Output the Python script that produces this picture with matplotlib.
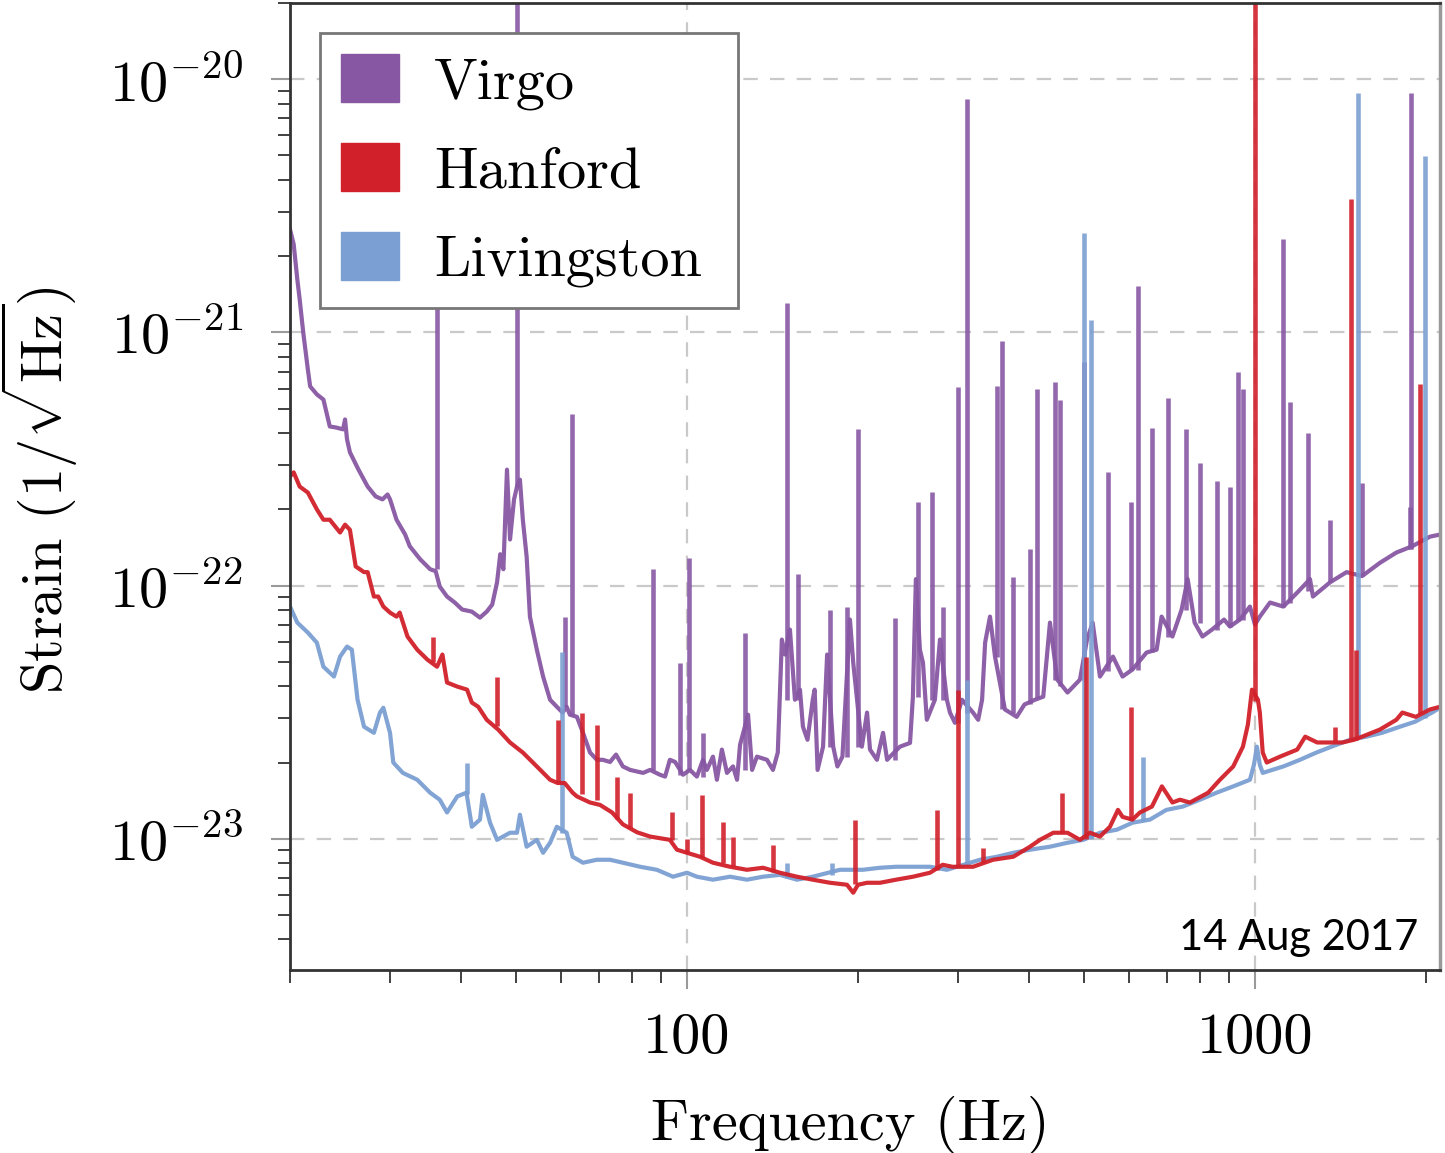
# -*- coding: utf-8 -*-

import numpy as np
import matplotlib
matplotlib.use('Agg')
from matplotlib import pyplot as plt
from matplotlib.patches import Patch
from matplotlib.ticker import FixedLocator, LogLocator, FuncFormatter, NullFormatter

# Amplitude spectral densities, strain in units of 1e-23 / sqrt(Hz)
virgo_freq = [20.0, 20.3, 20.6, 20.8, 21.1, 21.5, 21.7, 22.3, 22.9, 23.5,
              24.1, 24.8, 25.0, 25.2, 25.5, 26.4, 27.4, 28.3, 29.1, 29.7,
              30.0, 30.8, 31.9, 32.5, 33.9, 35.3, 36.1, 36.7, 37.8, 39.0,
              40.2, 41.8, 43.2, 44.4, 45.4, 46.3, 46.9, 47.5, 48.2, 48.8,
              49.6, 50.2, 50.8, 51.4, 52.2, 52.9, 54.4, 55.8, 57.4, 59.0,
              60.4, 61.4, 62.2, 64.0, 65.6, 67.5, 69.4, 71.1, 73.2, 75.0,
              77.1, 79.4, 83.7, 86.1, 89.6, 91.5, 93.3, 95.3, 98.4, 101.2,
              104.1, 106.7, 108.4, 111.1, 112.9, 115.2, 117.6, 120.5, 122.5, 124.0,
              128.1, 130.2, 132.8, 138.3, 141.7, 144.5, 146.9, 148.8, 151.8, 154.9,
              158.1, 160.0, 163.0, 166.5, 167.8, 169.8, 173.6, 176.5, 180.9, 184.0,
              187.8, 193.6, 196.2, 203.2, 207.5, 210.0, 216.0, 221.4, 225.1, 229.7,
              237.1, 247.0, 249.9, 252.9, 257.1, 260.3, 264.4, 273.2, 278.9, 286.8,
              290.4, 296.3, 304.9, 318.9, 325.6, 330.8, 334.9, 341.6, 348.6, 362.9,
              370.4, 380.6, 392.8, 410.0, 423.9, 435.6, 448.7, 467.7, 491.9, 506.2,
              517.9, 533.5, 562.3, 584.6, 608.6, 644.5, 671.3, 684.9, 715.7, 742.9,
              761.2, 783.1, 808.3, 840.2, 882.3, 903.6, 941.0, 979.9, 1000, 1020,
              1063, 1122, 1187, 1250, 1265, 1356, 1450, 1544, 1660, 1774,
              1892, 2033, 2117]
virgo_asd = [255, 223, 162, 135, 100, 71.4, 61.2, 56.9, 54.3, 42.5,
             42.1, 41.4, 45.3, 37.8, 33.6, 28.7, 24.6, 22.5, 21.9, 22.9,
             21.9, 18.2, 15.9, 14.3, 12.7, 11.6, 11.4, 9.91, 9.05, 8.57,
             8.04, 7.89, 7.47, 7.89, 8.41, 10.3, 13.3, 11.6, 28.7, 15.2,
             21.9, 24.6, 26.2, 18.2, 13.0, 7.54, 5.58, 4.37, 3.54, 3.32,
             3.15, 3.32, 3.09, 3.03, 2.62, 2.19, 2.05, 2.05, 2.01, 2.15,
             1.93, 1.87, 1.82, 1.87, 1.79, 1.76, 2.05, 2.01, 1.79, 1.87,
             1.76, 2.05, 1.87, 2.11, 1.71, 2.25, 1.82, 1.93, 1.71, 2.35,
             3.09, 1.87, 2.11, 2.05, 1.87, 2.19, 6.12, 5.34, 6.70, 3.54,
             3.88, 2.77, 2.46, 3.54, 3.88, 1.87, 2.31, 5.34, 2.31, 1.93,
             2.11, 7.34, 4.96, 2.31, 3.15, 2.25, 2.05, 2.62, 2.05, 2.15,
             2.31, 2.39, 3.64, 10.6, 5.58, 4.96, 2.95, 3.54, 6.12, 3.54,
             3.15, 2.87, 3.54, 3.15, 2.95, 3.54, 5.95, 7.54, 5.24, 3.24,
             3.15, 3.03, 3.39, 3.54, 3.64, 7.14, 4.25, 3.78, 4.25, 6.12,
             7.14, 4.37, 5.24, 4.37, 4.66, 5.44, 5.58, 7.54, 6.29, 8.04,
             10.6, 7.14, 6.29, 6.70, 7.34, 6.89, 7.34, 8.26, 7.01, 7.54,
             8.57, 8.26, 9.38, 10.6, 9.05, 10.3, 11.3, 10.9, 12.3, 13.5,
             14.3, 15.6, 15.9]

# narrow lines: frequency, level at the foot, level at the top
virgo_line_freq = [36.3, 50.2, 60.9, 62.8, 87.1, 97.2, 100.8, 106.7, 126.5, 150.0,
                   156.8, 178.6, 191.3, 200.0, 232.4, 254.9, 269.9, 281.9, 299.9, 310.9,
                   351.5, 358.9, 375.4, 401.7, 413.3, 444.9, 453.6, 499.9, 550.9, 604.9,
                   622.3, 658.6, 702.8, 756.0, 800.1, 856.1, 903.6, 933.4, 952.4, 1122,
                   1153, 1240, 1356, 1544, 1875, 1883]
virgo_line_base = [11.6, 24.6, 3.32, 3.09, 1.87, 1.79, 1.87, 1.76, 1.87, 3.54,
                   3.54, 2.31, 2.11, 2.31, 2.05, 3.64, 3.54, 3.54, 2.87, 3.15,
                   5.24, 3.24, 3.15, 3.4, 3.6, 4.25, 4.0, 4.25, 4.6, 4.66,
                   4.66, 5.44, 6.29, 8.04, 7.14, 6.70, 6.89, 7.34, 7.34, 8.26,
                   8.5, 9.5, 10.3, 10.9, 14.0, 14.0]
virgo_line_peak = [141, 4000, 7.54, 47.4, 11.6, 4.96, 12.9, 2.62, 6.52, 131,
                   11.1, 8.04, 8.26, 41.4, 7.47, 21.3, 23.5, 8.26, 60.6, 834,
                   61.2, 92.1, 10.8, 13.9, 59.5, 63.4, 54.3, 76.1, 28.0, 21.3,
                   152, 42.1, 55.3, 41.4, 30.6, 25.8, 24.6, 69.5, 59.5, 233,
                   52.9, 40.2, 18.2, 25.5, 20.5, 884]

hanford_freq = [20.0, 20.3, 20.8, 21.5, 22.3, 22.9, 23.5, 24.5, 25.0, 25.5,
                26.1, 27.0, 27.4, 28.1, 28.6, 29.2, 30.0, 30.8, 31.2, 32.2,
                33.5, 34.9, 36.3, 37.1, 37.8, 39.4, 41.0, 41.8, 42.9, 44.4,
                46.5, 48.8, 51.4, 54.4, 57.4, 59.2, 60.9, 62.9, 64.0, 67.5,
                70.3, 73.8, 77.1, 81.7, 86.1, 93.3, 96.0, 100, 105.4, 111.1,
                119.1, 127.5, 136.1, 145.8, 156.2, 166.5, 178.6, 191.3, 196.2, 200.0,
                207.5, 218.7, 233.4, 250.0, 267.8, 281.9, 293.4, 306.7, 318.9, 345.9,
                375.4, 401.7, 418.3, 441.6, 467.7, 491.9, 512.3, 533.5, 555.5, 573.9,
                584.6, 608.6, 627.4, 658.6, 685.8, 715.7, 737.8, 768.3, 827.2, 867.7,
                915.7, 952.4, 971.7, 988.0, 1012, 1020, 1032, 1049, 1107, 1187,
                1226, 1287, 1356, 1425, 1495, 1544, 1660, 1774, 1818, 1920,
                2033, 2117]
hanford_asd = [27.0, 28.0, 24.6, 23.3, 20.0, 18.2, 18.2, 16.2, 17.4, 16.6,
               11.9, 11.3, 11.3, 9.05, 9.05, 8.26, 7.82, 7.54, 7.82, 6.29,
               5.58, 5.10, 4.78, 5.34, 4.14, 3.99, 3.88, 3.45, 3.32, 2.95,
               2.70, 2.40, 2.19, 1.93, 1.71, 1.66, 1.66, 1.52, 1.47, 1.39,
               1.36, 1.27, 1.14, 1.06, 1.02, 0.99, 0.905, 0.88, 0.849, 0.804,
               0.775, 0.754, 0.768, 0.734, 0.708, 0.689, 0.670, 0.658, 0.612, 0.658,
               0.670, 0.670, 0.689, 0.708, 0.734, 0.789, 0.775, 0.775, 0.775, 0.826,
               0.849, 0.93, 0.99, 1.056, 1.056, 0.99, 1.056, 1.02, 1.115, 1.30,
               1.22, 1.19, 1.27, 1.34, 1.61, 1.39, 1.426, 1.39, 1.52, 1.71,
               1.93, 2.31, 2.82, 3.88, 3.54, 3.15, 2.19, 2.0, 2.11, 2.25,
               2.53, 2.40, 2.40, 2.40, 2.46, 2.53, 2.70, 2.95, 3.15, 3.03,
               3.24, 3.32]

hanford_line_freq = [35.7, 46.3, 59.2, 65.3, 69.4, 75.4, 79.4, 94.1, 100.0, 106.3,
                     115.7, 120.5, 141.7, 197.9, 275.4, 299.9, 332.1, 457.4, 504.3, 604.9,
                     1000, 1384, 1479, 1509, 1952]
hanford_line_base = [5.0, 2.8, 1.66, 1.5, 1.42, 1.2, 1.1, 0.99, 0.88, 0.85,
                     0.8, 0.78, 0.74, 0.66, 0.75, 0.775, 0.8, 1.05, 1.0, 1.19,
                     3.5, 2.4, 2.45, 2.45, 3.1]
hanford_line_peak = [6.29, 4.37, 2.95, 3.15, 2.82, 1.76, 1.52, 1.27, 1.0, 1.49,
                     1.16, 1.02, 0.947, 1.19, 1.30, 3.88, 0.921, 1.52, 5.24, 3.30,
                     4000, 2.77, 336, 5.58, 62.3]

livingston_freq = [20.0, 20.6, 21.5, 22.3, 22.9, 23.9, 24.5, 25.2, 25.7, 26.3,
                   27.0, 28.1, 28.8, 29.2, 30.0, 30.4, 31.6, 33.5, 35.3, 36.7,
                   37.8, 39.4, 40.9, 41.8, 43.2, 43.7, 45.0, 46.3, 48.8, 50.2,
                   50.8, 52.2, 54.4, 55.8, 57.4, 59.0, 61.4, 62.9, 65.6, 69.4,
                   73.2, 77.1, 82.7, 88.5, 94.5, 100, 104.1, 111.1, 119.1, 127.5,
                   136.1, 145.8, 156.2, 166.5, 185.9, 204.0, 218.7, 233.4, 250.0, 267.8,
                   286.8, 306.7, 328.0, 351.5, 375.4, 401.7, 435.6, 467.7, 498.7, 533.5,
                   571.0, 608.6, 653.3, 698.2, 746.5, 800.1, 856.1, 915.7, 979.9, 996,
                   1008, 1020, 1032, 1122, 1200, 1283, 1364, 1470, 1571, 1674,
                   1800, 1915, 2050, 2117]
livingston_asd = [8.26, 7.14, 6.52, 5.95, 4.78, 4.37, 5.24, 5.74, 5.58, 3.54,
                  2.77, 2.62, 3.15, 3.29, 2.62, 2.0, 1.82, 1.71, 1.52, 1.426,
                  1.27, 1.47, 1.52, 1.115, 1.19, 1.49, 1.157, 0.99, 1.056, 1.056,
                  1.244, 0.93, 0.99, 0.88, 0.964, 1.115, 1.056, 0.849, 0.804, 0.826,
                  0.826, 0.804, 0.775, 0.754, 0.708, 0.734, 0.708, 0.689, 0.708, 0.689,
                  0.708, 0.72, 0.689, 0.708, 0.754, 0.754, 0.768, 0.775, 0.775, 0.775,
                  0.754, 0.789, 0.826, 0.849, 0.88, 0.905, 0.93, 0.964, 0.99, 1.056,
                  1.085, 1.157, 1.19, 1.30, 1.34, 1.426, 1.52, 1.61, 1.71, 1.96,
                  2.31, 1.96, 1.82, 1.93, 2.05, 2.19, 2.31, 2.46, 2.53, 2.62,
                  2.77, 2.9, 3.15, 3.29]

livingston_line_freq = [41.0, 60.2, 150.0, 179.9, 310.9, 500.2, 513.8, 635.0, 1516, 1993]
livingston_line_base = [1.5, 1.05, 0.7, 0.72, 0.79, 0.99, 1.0, 1.17, 2.5, 3.0]
livingston_line_peak = [2.0, 5.44, 0.804, 0.804, 4.25, 248, 112, 2.11, 884, 496]

detectors = ['Virgo', 'Hanford', 'Livingston']
colors = {'Virgo': '#8757a3', 'Hanford': '#d2202a', 'Livingston': '#7b9fd2'}

plt.rcParams.update({
    'font.family': 'serif',
    'font.serif': ['cmr10'],
    'mathtext.fontset': 'cm',
    'axes.formatter.use_mathtext': True,
    'axes.unicode_minus': False,
})

fig = plt.figure(figsize=(14.45, 11.53), dpi=100)
ax = fig.add_axes([0.2007, 0.1587, 0.7958, 0.8387])

unit = 1e-23
curves = [
    ('Virgo', virgo_freq, virgo_asd, virgo_line_freq, virgo_line_base, virgo_line_peak),
    ('Livingston', livingston_freq, livingston_asd, livingston_line_freq,
     livingston_line_base, livingston_line_peak),
    ('Hanford', hanford_freq, hanford_asd, hanford_line_freq, hanford_line_base,
     hanford_line_peak),
]
for name, f, asd, lf, lb, lp in curves:
    c = colors[name]
    ax.plot(f, np.array(asd) * unit, color=c, lw=3.0, alpha=0.95,
            solid_joinstyle='round')
    ax.vlines(lf, np.array(lb) * unit, np.array(lp) * unit, color=c, lw=3.3,
              alpha=0.9)

ax.set_xscale('log')
ax.set_yscale('log')
ax.set_xlim(20, 2117)
ax.set_ylim(3.03e-24, 2.0e-20)

ax.xaxis.set_major_locator(FixedLocator([100, 1000]))
ax.xaxis.set_minor_locator(LogLocator(base=10, subs=np.arange(2, 10)))
ax.xaxis.set_major_formatter(FuncFormatter(lambda v, p: '%g' % v))
ax.xaxis.set_minor_formatter(NullFormatter())
ax.yaxis.set_major_locator(FixedLocator([1e-23, 1e-22, 1e-21, 1e-20]))
ax.yaxis.set_minor_locator(LogLocator(base=10, subs=np.arange(2, 10)))
ax.yaxis.set_minor_formatter(NullFormatter())

ax.tick_params(which='major', direction='out', length=14, width=1.5,
               color='#9a9a9a', labelsize=42)
ax.tick_params(which='minor', direction='out', length=9, width=1.3,
               color='#333333')
ax.tick_params(axis='x', which='major', pad=17)
ax.tick_params(axis='y', which='major', pad=20)

for side in ['left', 'bottom', 'top']:
    ax.spines[side].set_color('#333333')
    ax.spines[side].set_linewidth(2.0)
ax.spines['right'].set_color('#999999')
ax.spines['right'].set_linewidth(2.5)

ax.grid(True, which='major', ls=(0, (6.5, 5.5)), color='#c9c9c9', lw=1.6)
ax.set_axisbelow(True)

ax.set_xlabel('Frequency (Hz)', fontsize=42)
ax.set_ylabel(r'Strain $(1/\sqrt{\mathrm{Hz}})$', fontsize=42)
ax.xaxis.set_label_coords(0.487, -0.13)
ax.yaxis.set_label_coords(-0.183, 0.496)

handles = [Patch(facecolor=colors[d], edgecolor=colors[d], label=d) for d in detectors]
leg = ax.legend(handles=handles, loc='upper left',
                bbox_to_anchor=(0.026, 0.5, 0.3635, 0.469), mode='expand',
                fontsize=42, frameon=True, fancybox=False, framealpha=1,
                edgecolor='#777777', borderaxespad=0, handlelength=1.0,
                handleheight=0.9, handletextpad=0.6, labelspacing=0.57,
                borderpad=0.36)
leg.get_frame().set_linewidth(2.0)

ax.text(0.981, 0.021, '14 Aug 2017', transform=ax.transAxes, ha='right',
        va='baseline', fontsize=30, family='Lato', color='black')

fig.savefig('out.png', dpi=100)
